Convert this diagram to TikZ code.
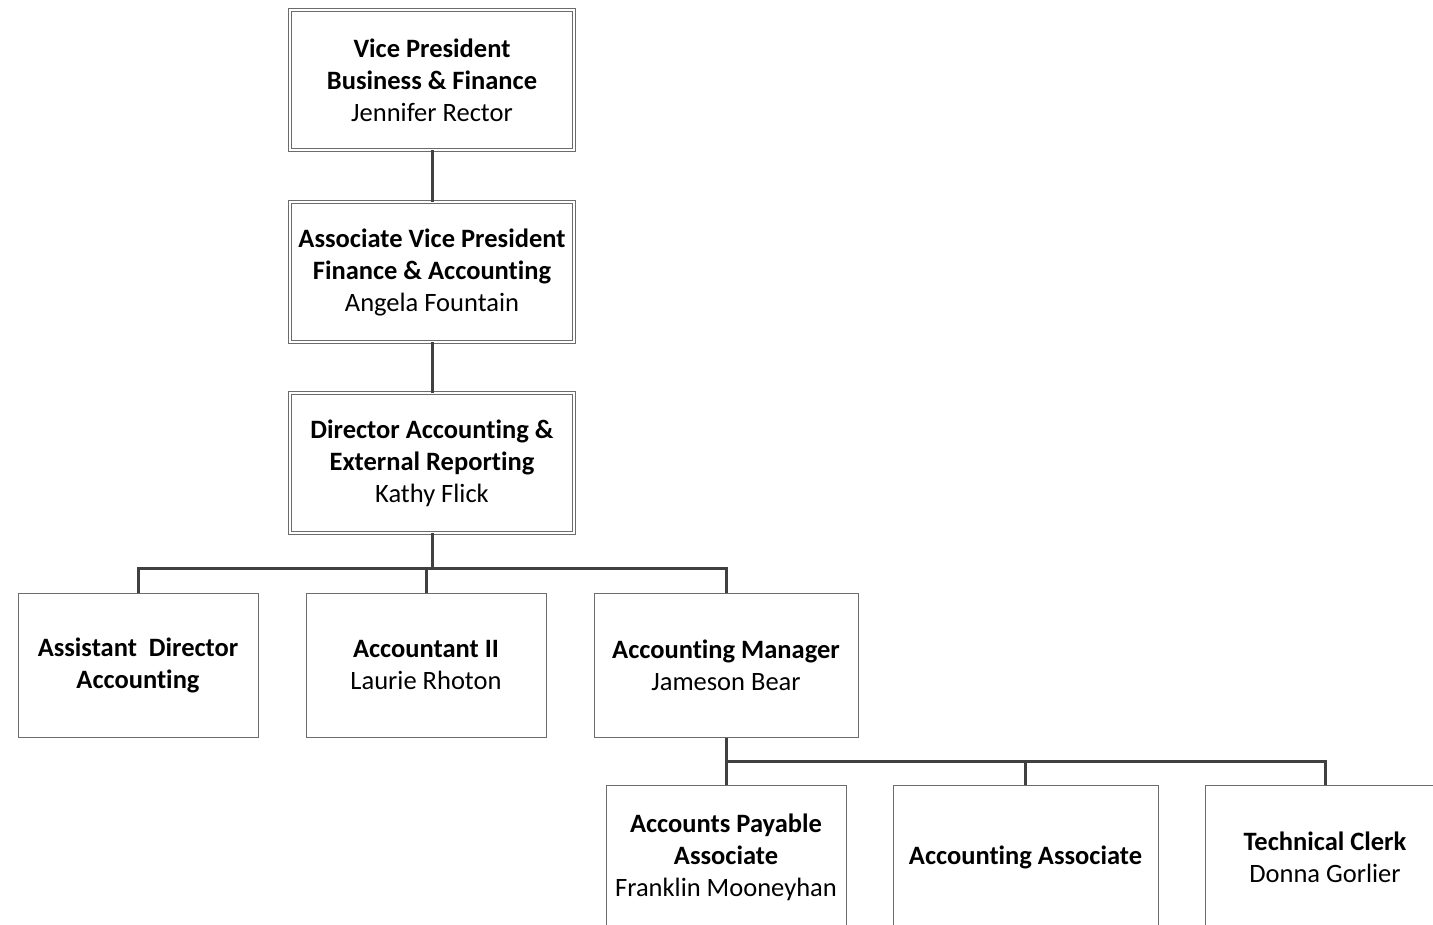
\documentclass[tikz,border=0pt]{standalone}
\usepackage{fontspec}
\setmainfont{Carlito}[Ligatures=NoCommon]
\usetikzlibrary{positioning}

\tikzset{
	post/.style={draw=gray!85!black, line width=1pt, fill=white, align=center, inner sep=0pt,
		minimum width=240pt, minimum height=144pt, font=\fontsize{26.5}{32}\selectfont},
	chief/.style={post, double=white, double distance=2.4pt, line width=0.9pt,
		minimum width=284pt, minimum height=140pt},
	link/.style={draw=black!75, line width=3pt},
}

\begin{document}
\begin{tikzpicture}[x=1pt,y=-1pt]
		\useasboundingbox (0,0) rectangle (1433,925);
		\clip (0,0) rectangle (1433,925);
		% top of the chain
		\node[chief] (vp) at (432,80) {\textbf{Vice President}\\\textbf{Business \& Finance}\\Jennifer Rector};
		\node[chief] (avp) at (432,272) {\textbf{Associate Vice President}\\\textbf{Finance \& Accounting}\\Angela Fountain};
		\node[chief] (dir) at (432,463) {\textbf{Director Accounting \&}\\\textbf{External Reporting}\\Kathy Flick};
		% second row
		\node[post] (asst) at (138,665) {\textbf{Assistant\ \ Director}\\\textbf{Accounting}};
		\node[post] (acct) at (426,665) {\textbf{Accountant II}\\Laurie Rhoton};
		\node[post, minimum width=264pt] (mgr) at (726,665) {\textbf{Accounting Manager}\\Jameson Bear};
		% third row
		\node[post] (ap) at (726,857) {\textbf{Accounts Payable}\\\textbf{Associate}\\Franklin Mooneyhan};
		\node[post, minimum width=265pt] (assoc) at (1025.5,857) {\textbf{Accounting Associate}};
		\node[post] (clerk) at (1325,857) {\textbf{Technical Clerk}\\Donna Gorlier};
		\coordinate (bar1) at (432,568);
		\coordinate (bar2) at (726,761);
		\draw[link] (vp) -- (avp);
		\draw[link] (avp) -- (dir);
		\draw[link] (dir) -- (bar1);
		\draw[link] (bar1) -| (asst);
		\draw[link] (bar1) -| (acct);
		\draw[link] (bar1) -| (mgr);
		\draw[link] (mgr) -- (bar2);
		\draw[link] (bar2) -- (ap);
		\draw[link] (bar2) -| (assoc);
		\draw[link] (bar2) -| (clerk);
	\end{tikzpicture}
\end{document}
